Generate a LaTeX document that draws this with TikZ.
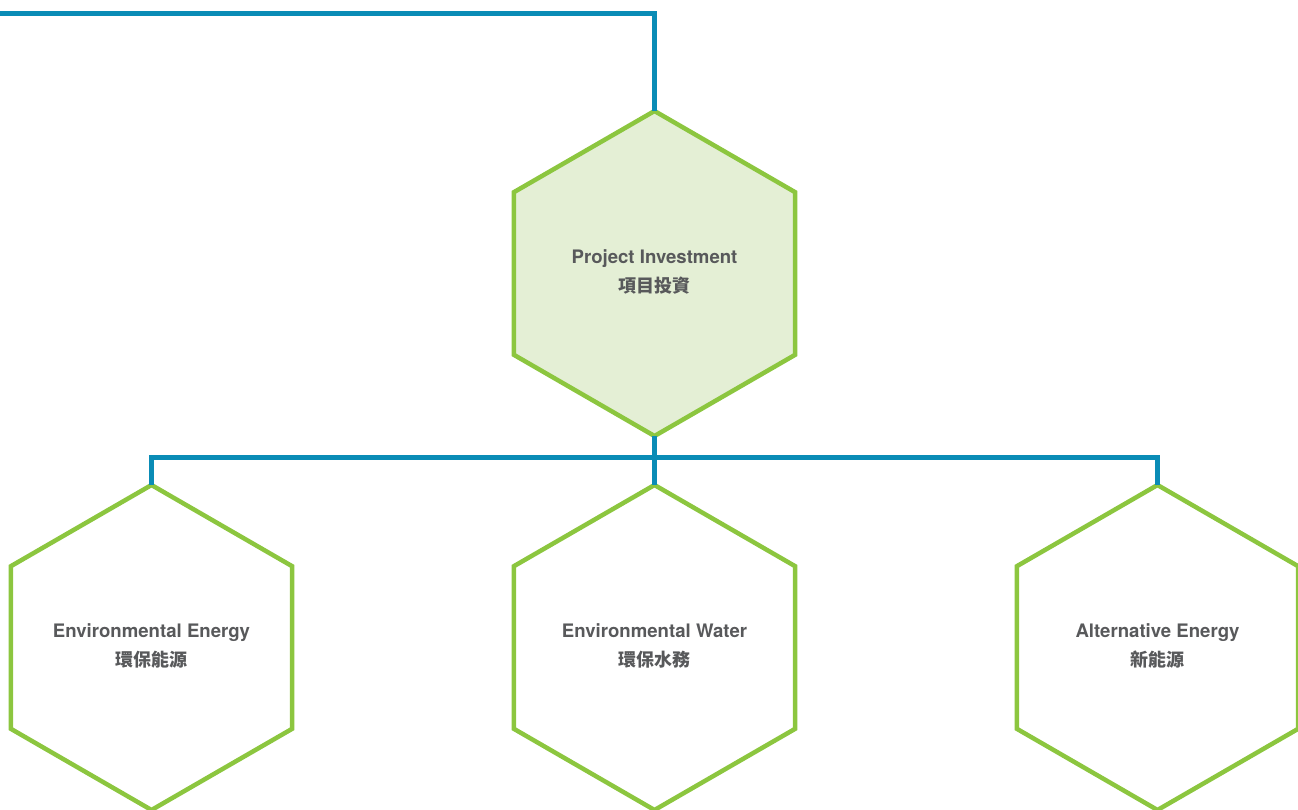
\documentclass[tikz,border=0pt]{standalone}
\usepackage{fontspec}
\setmainfont{TeX Gyre Heros}
\newfontfamily\cjk{Noto Sans CJK TC}
\definecolor{hexgreen}{HTML}{8CC63F}
\definecolor{hexfill}{HTML}{E4EFD5}
\definecolor{linkblue}{HTML}{0A8CB6}
\definecolor{txtgray}{HTML}{58595B}
\tikzset{
  hexline/.style={draw=hexgreen, line width=4.5pt, line join=miter},
  link/.style={draw=linkblue, line width=4.5pt, line join=miter},
  label/.style={text=txtgray, align=center, font=\fontsize{18.6}{29}\selectfont\bfseries, inner sep=0pt},
}
\newcommand{\cjktext}[1]{{\cjk\bfseries\fontsize{18}{29}\selectfont #1}}
\newcommand{\hexR}{162.5}
\newcommand{\drawhex}[3]{% name, center, style
  \coordinate (#1) at #2;
  \path[hexline,#3] (#1) +(90:\hexR) -- +(150:\hexR) -- +(210:\hexR) -- +(270:\hexR) -- +(330:\hexR) -- +(30:\hexR) -- cycle;
  \coordinate (#1-top) at ($(#1)+(0,-\hexR)$);
  \coordinate (#1-bot) at ($(#1)+(0,\hexR)$);
}
\usetikzlibrary{calc}
\begin{document}
\begin{tikzpicture}[x=1pt,y=-1pt]
\useasboundingbox (0,0) rectangle (1298,809);
% hexagons
\drawhex{pi}{(654.5,273.5)}{fill=hexfill}
\drawhex{ee}{(151.5,647.5)}{}
\drawhex{ew}{(654.5,647.5)}{}
\drawhex{ae}{(1157.5,647.5)}{}
% labels
\node[label] (tpi) at ($(pi)+(0,-2)$) {Project Investment\\\cjktext{項目投資}};
\node[label] (tee) at ($(ee)+(0,-2)$) {Environmental Energy\\\cjktext{環保能源}};
\node[label] (tew) at ($(ew)+(0,-2)$) {Environmental Water\\\cjktext{環保水務}};
\node[label] (tae) at ($(ae)+(0,-2)$) {Alternative Energy\\\cjktext{新能源}};
% connectors
\coordinate (start) at (-3,13.3);
\coordinate (bus) at (654.5,457.5);
\draw[link] (start) -| (pi-top);
\draw[link] (pi-bot) -- (bus);
\draw[link] (ee-top) |- (bus) -| (ae-top);
\draw[link] (bus) -- (ew-top);
\end{tikzpicture}
\end{document}
